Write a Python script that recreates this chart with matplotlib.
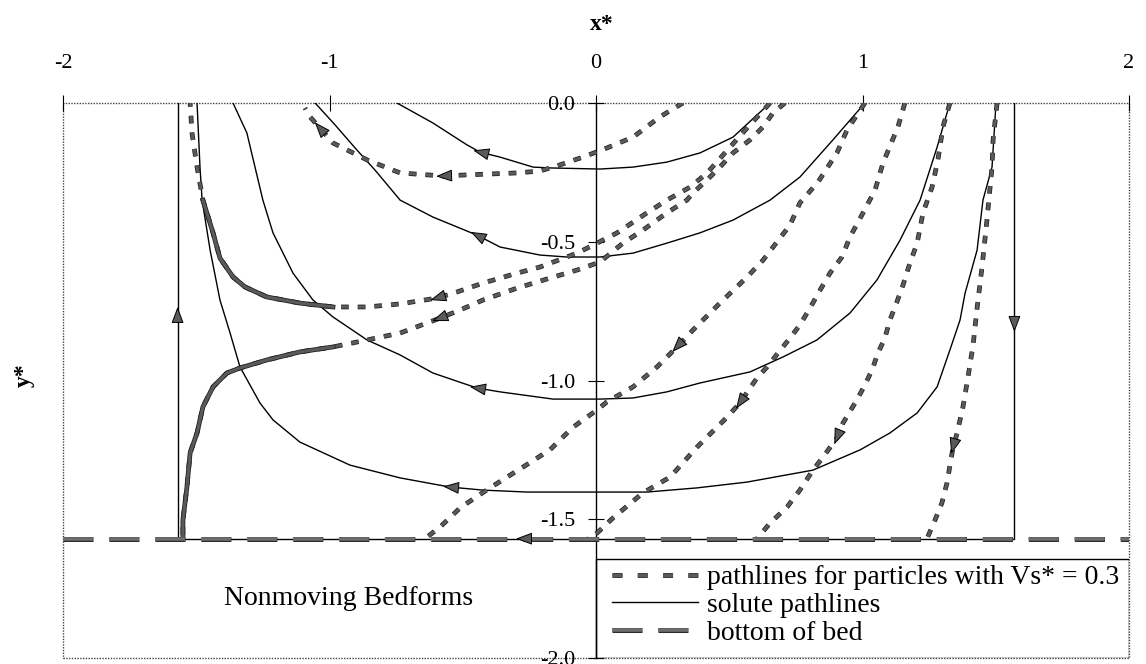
import numpy as np
import matplotlib
matplotlib.use("Agg")
import matplotlib.pyplot as plt
import matplotlib.patheffects as pe
from matplotlib.lines import Line2D
from matplotlib.patches import Rectangle
from matplotlib.ticker import FormatStrFormatter

plt.rcParams['font.family'] = 'Liberation Serif'
plt.rcParams['axes.unicode_minus'] = False
plt.rcParams['lines.scale_dashes'] = False

# solute pathlines (enter on the right, leave on the left)
s1_x = [0.653, 0.514, 0.390, 0.266, 0.139, 0.015, -0.173, -0.236, -0.360, -0.435, -0.484, -0.612, -0.747]
s1_y = [0.0, -0.123, -0.180, -0.213, -0.231, -0.238, -0.234, -0.231, -0.195, -0.177, -0.151, -0.072, 0.0]

s2_x = [1.009, 0.889, 0.765, 0.653, 0.514, 0.390, 0.266, 0.139, 0.015, -0.109, -0.210, -0.360, -0.447,
        -0.612, -0.735, -0.829, -0.904, -0.979, -1.054]
s2_y = [0.0, -0.133, -0.267, -0.350, -0.422, -0.468, -0.505, -0.541, -0.555, -0.555, -0.548, -0.519, -0.476,
        -0.411, -0.350, -0.242, -0.162, -0.079, 0.0]

s3_x = [1.328, 1.280, 1.216, 1.141, 1.054, 0.953, 0.829, 0.702, 0.578, 0.390, 0.266, 0.139, 0.015, -0.161,
        -0.360, -0.447, -0.612, -0.735, -0.859, -0.987, -1.062, -1.137, -1.212, -1.250, -1.310, -1.362]
s3_y = [0.0, -0.159, -0.350, -0.494, -0.638, -0.757, -0.854, -0.915, -0.969, -1.009, -1.041, -1.063, -1.067,
        -1.067, -1.041, -1.027, -0.973, -0.908, -0.854, -0.771, -0.710, -0.613, -0.468, -0.350, -0.108, 0.0]

s4_x = [1.501, 1.486, 1.452, 1.430, 1.385, 1.366, 1.328, 1.280, 1.205, 1.103, 0.991, 0.814, 0.567, 0.379,
        0.191, -0.004, -0.259, -0.424, -0.548, -0.735, -0.923, -1.111, -1.212, -1.261, -1.336, -1.373,
        -1.411, -1.448, -1.478, -1.486, -1.497]
s4_y = [0.0, -0.231, -0.350, -0.530, -0.685, -0.782, -0.890, -1.023, -1.117, -1.189, -1.250, -1.323, -1.366,
        -1.387, -1.402, -1.402, -1.402, -1.395, -1.384, -1.351, -1.305, -1.222, -1.142, -1.081, -0.951,
        -0.829, -0.710, -0.530, -0.350, -0.231, 0.0]

# cell boundary streamline: right wall down, along the bed, left wall up
wall_x = [1.57, 1.57, -1.57, -1.57]
wall_y = [0.0, -1.57, -1.57, 0.0]

# bottom of the moving layer
bed_x = [-2.0, 2.0]
bed_y = [-1.57, -1.57]

# particle pathlines, Vs* = 0.3
d1_x = [0.326, 0.240, 0.139, 0.041, -0.049, -0.135, -0.210, -0.296, -0.484, -0.574, -0.735, -0.859, -0.987,
        -1.073, -1.092]
d1_y = [0.0, -0.050, -0.123, -0.162, -0.195, -0.223, -0.245, -0.252, -0.259, -0.263, -0.252, -0.205, -0.144,
        -0.050, -0.018]

d2_x = [0.653, 0.567, 0.503, 0.417, 0.353, 0.266, 0.191, 0.079, 0.004, -0.071, -0.210, -0.296, -0.424,
        -0.522, -0.597, -0.735, -0.859, -0.987, -1.111, -1.235, -1.317, -1.362, -1.411, -1.437, -1.475,
        -1.497, -1.516, -1.523]
d2_y = [0.0, -0.090, -0.159, -0.252, -0.303, -0.350, -0.396, -0.468, -0.505, -0.541, -0.591, -0.613, -0.649,
        -0.681, -0.703, -0.724, -0.735, -0.735, -0.721, -0.699, -0.663, -0.627, -0.559, -0.468, -0.350,
        -0.231, -0.108, 0.0]

d3_x = [0.709, 0.664, 0.627, 0.578, 0.514, 0.465, 0.417, 0.364, 0.341, 0.266, 0.176, 0.101, 0.015, -0.071,
        -0.173, -0.296, -0.424, -0.510, -0.585, -0.735, -0.859, -0.987, -1.111, -1.235, -1.336, -1.385,
        -1.437, -1.475, -1.497, -1.523, -1.535, -1.550, -1.550]
d3_y = [0.0, -0.036, -0.086, -0.133, -0.180, -0.231, -0.277, -0.324, -0.350, -0.396, -0.458, -0.505, -0.573,
        -0.602, -0.631, -0.667, -0.710, -0.746, -0.775, -0.829, -0.854, -0.879, -0.897, -0.926, -0.955,
        -0.973, -1.023, -1.095, -1.189, -1.261, -1.384, -1.503, -1.570]

d4_x = [1.009, 0.942, 0.904, 0.833, 0.765, 0.728, 0.679, 0.627, 0.567, 0.465, 0.364, 0.304, 0.229, 0.139,
        0.041, 0.004, -0.086, -0.173, -0.274, -0.398, -0.510, -0.585, -0.642]
d4_y = [0.0, -0.097, -0.180, -0.285, -0.360, -0.440, -0.501, -0.566, -0.627, -0.721, -0.818, -0.879, -0.951,
        -1.023, -1.077, -1.106, -1.168, -1.250, -1.312, -1.387, -1.459, -1.528, -1.570]

d5_x = [1.159, 1.133, 1.077, 1.047, 1.002, 0.953, 0.923, 0.878, 0.841, 0.803, 0.765, 0.728, 0.683, 0.642,
        0.604, 0.540, 0.492, 0.379, 0.278, 0.176, 0.064, -0.004, -0.030]
d5_y = [0.0, -0.086, -0.216, -0.314, -0.396, -0.483, -0.555, -0.613, -0.674, -0.739, -0.800, -0.847, -0.901,
        -0.951, -0.991, -1.081, -1.132, -1.240, -1.348, -1.405, -1.495, -1.557, -1.570]

d6_x = [1.328, 1.302, 1.283, 1.261, 1.227, 1.205, 1.178, 1.152, 1.129, 1.103, 1.084, 1.058, 1.036, 1.009,
        0.979, 0.927, 0.904, 0.852, 0.814, 0.765, 0.717, 0.653, 0.604]
d6_y = [0.0, -0.086, -0.205, -0.303, -0.396, -0.505, -0.577, -0.656, -0.717, -0.782, -0.847, -0.901, -0.962,
        -1.016, -1.070, -1.153, -1.207, -1.276, -1.323, -1.395, -1.456, -1.514, -1.570]

d7_x = [1.505, 1.490, 1.486, 1.467, 1.448, 1.430, 1.415, 1.396, 1.377, 1.355, 1.340, 1.317, 1.298, 1.272, 1.242]
d7_y = [0.0, -0.133, -0.231, -0.422, -0.595, -0.739, -0.872, -0.987, -1.095, -1.189, -1.240, -1.369, -1.441,
        -1.503, -1.570]

# where the direction arrows sit on each line
s_arrows = [(-0.435, -0.177), (-0.447, -0.476), (-0.447, -1.027), (-0.548, -1.384)]
wall_arrows = [(1.57, -0.80), (-0.274, -1.57), (-1.57, -0.76)]
d_arrows = [[(-0.574, -0.263), (-1.04, -0.09)], [(-0.597, -0.703)], [(-0.585, -0.790)],
            [(0.304, -0.879)], [(0.540, -1.081)], [(0.904, -1.207)], [(1.340, -1.240)]]

x_ticks = [-2, -1, 0, 1, 2]
y_ticks = [-2.0, -1.5, -1.0, -0.5, 0.0]
legend_labels = ["pathlines for particles with Vs* = 0.3", "solute pathlines", "bottom of bed"]

GRAY = '#5a5a5a'
outline = [pe.Stroke(linewidth=3.4, foreground='#1e1e1e'), pe.Normal()]
bed_outline = [pe.Stroke(linewidth=3.6, foreground='#2a2a2a'), pe.Normal()]


def draw_arrow(ax, xs, ys, at, color=GRAY):
    """Arrowhead on the polyline (xs, ys) near point `at`, pointing along the line order."""
    trans = ax.transData
    pts = trans.transform(np.column_stack([xs, ys]))
    p = trans.transform(at)
    best = None
    for a, b in zip(pts[:-1], pts[1:]):
        seg = b - a
        L = np.hypot(*seg)
        if L == 0:
            continue
        t = np.clip(np.dot(p - a, seg) / L**2, 0, 1)
        q = a + t * seg
        dist = np.hypot(*(p - q))
        if best is None or dist < best[0]:
            best = (dist, q, seg / L)
    _, q, u = best
    inv = trans.inverted()
    ax.annotate('', xy=inv.transform(q + 7 * u), xytext=inv.transform(q - 7 * u),
                arrowprops=dict(arrowstyle='-|>,head_length=0.85,head_width=0.32', mutation_scale=12,
                                fc=color, ec='black', lw=0.7, shrinkA=0, shrinkB=0),
                zorder=6)


fig = plt.figure(figsize=(11.46, 6.64), dpi=100)
ax = fig.add_axes([63 / 1146, 6 / 664, 1066 / 1146, 555 / 664])
ax.set_xlim(-2, 2)
ax.set_ylim(-2, 0)

# dotted outer frame, y axis through x = 0
for side in ['top', 'right', 'bottom']:
    ax.spines[side].set_visible(False)
ax.spines['left'].set_position(('data', 0))
ax.spines['left'].set_linewidth(1.0)
ax.add_patch(Rectangle((0, 0), 1, 1, transform=ax.transAxes, fill=False, ls=(0, (1, 1)),
                       lw=1.0, ec='#444444', clip_on=False, zorder=0.5))

ax.xaxis.tick_top()
ax.set_xticks(x_ticks)
ax.tick_params(axis='x', direction='inout', length=11, width=0.8, pad=16, labelsize=16)
ax.set_yticks(y_ticks)
ax.yaxis.set_major_formatter(FormatStrFormatter('%.1f'))
ax.tick_params(axis='y', direction='inout', length=12, width=0.8, pad=9, labelsize=16)

ax.xaxis.set_label_position('top')
ax.set_xlabel('x*', fontsize=17, fontweight='bold', va='center')
ax.xaxis.set_label_coords(0.505, (658 - 24) / 555)
ax.set_ylabel('y*', fontsize=17, fontweight='bold', va='center', ha='center')
ax.yaxis.set_label_coords((24 - 63) / 1066, (658 - 375) / 555)

# solute pathlines
solute = [(s1_x, s1_y), (s2_x, s2_y), (s3_x, s3_y), (s4_x, s4_y)]
for (xs, ys), at in zip(solute, s_arrows):
    ax.plot(xs, ys, color='black', lw=1.0, zorder=3)
    draw_arrow(ax, xs, ys, at)

ax.plot(wall_x, wall_y, color='black', lw=1.0, zorder=3)
for at in wall_arrows:
    draw_arrow(ax, wall_x, wall_y, at)

# particle pathlines
particles = [(d1_x, d1_y), (d2_x, d2_y), (d3_x, d3_y), (d4_x, d4_y),
             (d5_x, d5_y), (d6_x, d6_y), (d7_x, d7_y)]
for (xs, ys), ats in zip(particles, d_arrows):
    ax.plot(xs, ys, color=GRAY, lw=2.3, dashes=(5.5, 6.5), path_effects=outline, zorder=4)
    for at in ats:
        draw_arrow(ax, xs, ys, at)

# near the left wall the slow particles trace an unbroken band
d2x, d2y = np.asarray(d2_x), np.asarray(d2_y)
band2 = (d2x < -0.95) & (d2y < -0.33)
ax.plot(d2x[band2], d2y[band2], color=GRAY, lw=2.3, path_effects=outline, zorder=4)
d3x, d3y = np.asarray(d3_x), np.asarray(d3_y)
band3 = d3x < -0.95
ax.plot(d3x[band3], d3y[band3], color=GRAY, lw=2.3, path_effects=outline, zorder=4)

ax.plot(bed_x, bed_y, color='#6e6e6e', lw=2.6, dashes=(21.6, 11.5), path_effects=bed_outline, zorder=5)

ax.text(-0.927, -1.809, 'Nonmoving Bedforms', ha='center', va='baseline', fontsize=20)

# legend box in the lower right corner
ax.add_patch(Rectangle((0, -2.0), 2.0, 0.357, fill=False, ec='black', lw=1.0, zorder=5))
handles = [
    Line2D([], [], color=GRAY, lw=2.3, dashes=(7.2, 11), path_effects=outline),
    Line2D([], [], color='black', lw=1.0),
    Line2D([], [], color='#6e6e6e', lw=2.6, dashes=(21.6, 11.5), path_effects=bed_outline),
]
ax.legend(handles, legend_labels, loc='upper left', bbox_to_anchor=(0.06, -1.665),
          bbox_transform=ax.transData, frameon=False, fontsize=20, handlelength=3.1,
          handletextpad=0.33, labelspacing=0.08, borderpad=0, borderaxespad=0)

fig.savefig('out.png', dpi=100)
